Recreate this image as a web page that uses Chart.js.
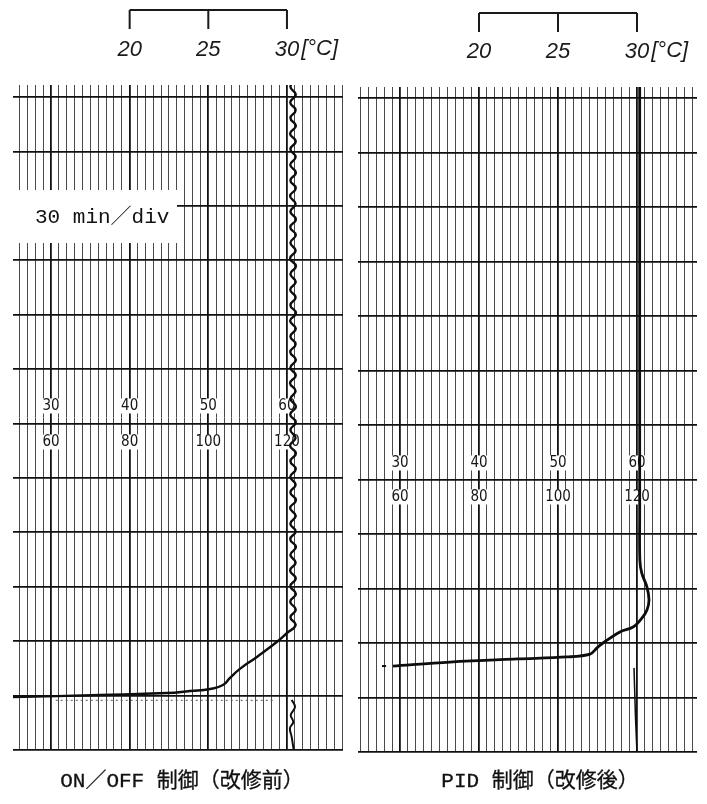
<!DOCTYPE html>
<html><head><meta charset="utf-8">
<script src="https://cdn.jsdelivr.net/npm/chart.js@4.4.1/dist/chart.umd.min.js"></script>
<style>
html,body{margin:0;padding:0;background:#fff;}
#wrap{position:relative;width:707px;height:804px;overflow:hidden;background:#fff;}
canvas{position:absolute;top:0;}
.cap{position:absolute;top:770px;font:21px 'Liberation Mono','Noto Sans CJK JP',monospace;line-height:24px;color:#111;white-space:nowrap;transform:translateX(-50%);-webkit-text-stroke:0.3px #111;}
</style></head><body>
<div id="wrap">
<canvas id="c1" width="353" height="804" style="left:0"></canvas>
<canvas id="c2" width="354" height="804" style="left:353px"></canvas>
<div class="cap" style="left:182px">ON／OFF 制御（改修前）</div>
<div class="cap" style="left:540px">PID 制御（改修後）</div>
</div>
<script>
// ---------- data (temperature °C vs time in minutes, 30 min/div) ----------
const topScaleValues = [20, 25, 30];
const topScaleUnit = '[°C]';
const paperLabelsUpper = ['30', '40', '50', '60'];
const paperLabelsLower = ['60', '80', '100', '120'];
const paperLabelTemps = [15, 20, 25, 30];
const timeGridMinutes = [0, 30, 60, 90, 120, 150, 180, 210, 240, 270, 300, 330, 360];

// ON/OFF control (before modification)
const onoffTime = [29.2, 30.3, 31.4, 32.5, 33.6, 35.8, 39.7, 44.7, 51.3, 60.1, 64.5, 68.9,
  73.2, 77.4, 81.8, 86.0, 90.4, 94.6, 99.0, 103.3, 107.6, 111.9, 116.2, 120.5, 124.8, 129.1,
  133.4, 137.7, 142.0, 146.3, 150.6, 154.9, 159.2, 163.5, 167.8, 172.1, 176.4, 180.7, 185.0,
  189.3, 193.6, 197.9, 202.2, 206.5, 210.8, 215.1, 219.4, 223.7, 228.0, 232.3, 236.6, 240.9,
  245.2, 249.5, 253.8, 258.1, 262.4, 266.7, 271.0, 275.3, 279.6, 283.9, 288.2, 292.5, 296.8,
  301.1, 305.4, 309.7, 314.0, 318.3, 322.6, 326.9, 331.2, 335.5, 339.8, 344.1, 348.4, 352.7,
  357.0, 361.3, 365.6, 369.9];
const onoffTemp = [12.58, 18.12, 22.37, 23.84, 25.11, 25.93, 26.38, 27.01, 28.09, 29.43, 30.0, 30.55,
  30.22, 30.56, 30.21, 30.57, 30.22, 30.56, 30.20, 30.55, 30.22, 30.57, 30.21, 30.55, 30.22, 30.56,
  30.20, 30.57, 30.22, 30.55, 30.21, 30.56, 30.22, 30.57, 30.20, 30.55, 30.22, 30.56, 30.21,
  30.57, 30.22, 30.55, 30.20, 30.56, 30.22, 30.57, 30.21, 30.55, 30.22, 30.56, 30.20, 30.57,
  30.22, 30.55, 30.21, 30.56, 30.22, 30.57, 30.20, 30.55, 30.22, 30.56, 30.21, 30.57, 30.22,
  30.55, 30.20, 30.56, 30.22, 30.57, 30.21, 30.55, 30.22, 30.56, 30.20, 30.57, 30.22, 30.55,
  30.21, 30.56, 30.22, 30.57];
// short wavy trace below the start of the ON/OFF record
const onoffLowTime = [27.6, 23.7, 19.3, 15.4, 12.1, 7.2, 1.7, -1];
const onoffLowTemp = [30.30, 30.51, 30.24, 30.40, 30.19, 30.30, 30.40, 30.45];
// faint dotted line of the ON/OFF chart
const onoffDotTime = [27.4, 27.4];
const onoffDotTemp = [15.3, 29.2];

// PID control (after modification)
const pidTime = [47.3, 49.5, 51.2, 52.3, 53.9, 57.3, 60.0, 66.1, 68.8, 73.8, 78.2, 83.7, 90.8, 98.5, 105.7, 130, 366.5];
const pidTemp = [14.56, 18.16, 22.41, 25.57, 27.03, 27.47, 27.85, 28.92, 29.75, 30.32, 30.63, 30.76, 30.63, 30.30, 30.18, 30.17, 30.17];
const pidDashTime = [47.3, 47.3];
const pidDashTemp = [13.86, 14.12];
const pidLowTime = [46.3, 20, -1];
const pidLowTemp = [29.81, 29.90, 30.0];

// ---------- helpers ----------
const pts = (xs, ys) => xs.map((x, i) => ({x, y: ys[i]}));
const isMajor = v => Math.abs(v / 5 - Math.round(v / 5)) < 1e-6;

const decor = {
  id: 'decor',
  beforeDatasetsDraw(chart, args, o) {
    const {ctx, scales: {x, y}} = chart;
    ctx.save();
    // printed chart-paper scale numbers
    ctx.font = "15px 'DejaVu Sans Condensed','DejaVu Sans',sans-serif";
    ctx.textAlign = 'center';
    ctx.textBaseline = 'middle';
    const yl = y.getPixelForValue(o.labelRow);
    paperLabelTemps.forEach((t, i) => {
      const px = x.getPixelForValue(t);
      [[paperLabelsUpper[i], yl - o.labelOff], [paperLabelsLower[i], yl + o.labelOff]].forEach(([s, py]) => {
        const w = ctx.measureText(s).width;
        ctx.fillStyle = '#fff';
        ctx.fillRect(px - w / 2 - 1, py - 7, w + 2, 15);
        ctx.fillStyle = '#151515';
        ctx.fillText(s, px, py + 1);
      });
    });
    // time-base box
    if (o.box) {
      const b = o.box;
      ctx.fillStyle = '#fff';
      ctx.fillRect(chart.chartArea.left, b.top, b.right - chart.chartArea.left, b.bottom - b.top);
      ctx.fillStyle = '#111';
      ctx.font = "21px 'Liberation Mono','Noto Sans CJK JP',monospace";
      ctx.textAlign = 'left';
      ctx.fillText(b.text, b.textX, (b.top + b.bottom) / 2 + 1);
    }
    ctx.restore();
  },
  afterDraw(chart, args, o) {
    const {ctx, scales: {x}} = chart;
    ctx.save();
    ctx.strokeStyle = '#1a1a1a';
    ctx.lineWidth = 2;
    const xs = topScaleValues.map(v => x.getPixelForValue(v));
    ctx.beginPath();
    ctx.moveTo(xs[0], o.brTop);
    ctx.lineTo(xs[xs.length - 1], o.brTop);
    xs.forEach(px => { ctx.moveTo(px, o.brTop); ctx.lineTo(px, o.brBottom); });
    ctx.stroke();
    ctx.fillStyle = '#1a1a1a';
    ctx.font = "italic 22px 'Liberation Sans','DejaVu Sans',sans-serif";
    ctx.textAlign = 'center';
    ctx.textBaseline = 'middle';
    topScaleValues.forEach((v, i) => ctx.fillText(String(v), xs[i], o.labelY));
    const last = xs[xs.length - 1] + ctx.measureText(String(topScaleValues[topScaleValues.length - 1])).width / 2 + 2;
    ctx.textAlign = 'left';
    ctx.fillText(topScaleUnit, last, o.labelY - 1);
    ctx.restore();
  }
};

function makeChart(id, xMin, xMax, yMax, pad, datasets, deco) {
  const gridX = [];
  for (let v = Math.ceil(xMin * 2) / 2; v <= xMax + 1e-9; v += 0.5) gridX.push(Math.round(v * 2) / 2);
  return new Chart(document.getElementById(id), {
    type: 'scatter',
    data: {datasets},
    plugins: [decor],
    options: {
      responsive: false,
      animation: false,
      devicePixelRatio: 1,
      layout: {padding: pad},
      plugins: {legend: {display: false}, tooltip: {enabled: false}, decor: deco},
      elements: {point: {radius: 0}},
      scales: {
        x: {
          type: 'linear', min: xMin, max: xMax,
          ticks: {display: false, includeBounds: false},
          border: {display: false},
          grid: {
            drawTicks: false,
            color: c => isMajor(c.tick.value) ? '#111' : '#4a4a4a',
            lineWidth: c => isMajor(c.tick.value) ? 1.8 : 1
          },
          afterBuildTicks: s => { s.ticks = gridX.map(v => ({value: v})); }
        },
        y: {
          type: 'linear', min: 0, max: yMax,
          ticks: {display: false, includeBounds: false},
          border: {display: false},
          grid: {drawTicks: false, color: '#111', lineWidth: 1.7},
          afterBuildTicks: s => { s.ticks = timeGridMinutes.map(v => ({value: v})); }
        }
      }
    }
  });
}

const lineDs = (data, w, extra) => Object.assign({data, showLine: true, borderColor: '#0d0d0d', borderWidth: w, tension: 0.4, pointRadius: 0, fill: false}, extra || {});

makeChart('c1', 12.584, 33.563, 366.6, {left: 13, right: 10, top: 85, bottom: 54}, [
  lineDs(pts(onoffTemp, onoffTime), 2.4, {tension: 0.5}),
  lineDs(pts(onoffLowTemp, onoffLowTime), 2),
  lineDs(pts(onoffDotTemp, onoffDotTime), 1, {borderDash: [2, 3], borderColor: '#555', tension: 0})
], {labelRow: 180, labelOff: 18, brTop: 10, brBottom: 29, labelY: 50,
    box: {top: 190, bottom: 243, right: 177, textX: 35, text: '30 min／div'}});

makeChart('c2', 12.342, 33.797, 366.0, {left: 5, right: 10, top: 87, bottom: 52}, [
  lineDs(pts(pidTemp, pidTime), 2.8, {tension: 0.35}),
  lineDs(pts(pidDashTemp, pidDashTime), 2, {tension: 0}),
  lineDs(pts(pidLowTemp, pidLowTime), 1.5, {tension: 0})
], {labelRow: 150, labelOff: 17, brTop: 13, brBottom: 32, labelY: 52});
</script>
</body></html>
